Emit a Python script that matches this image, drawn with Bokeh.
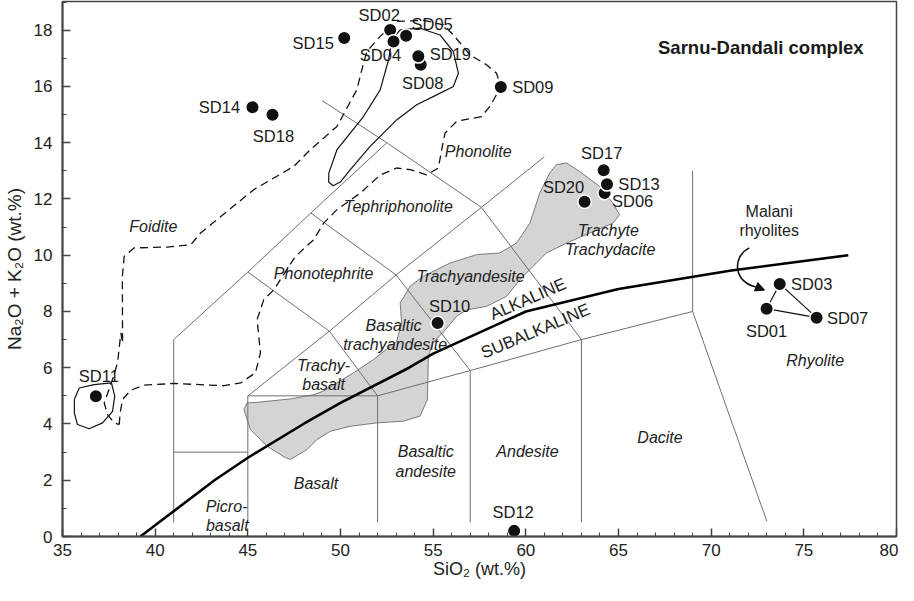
from bokeh.plotting import figure
from bokeh.models import Range1d, ColumnDataSource, FixedTicker, Label, Arrow, NormalHead
from bokeh.core.properties import value
from bokeh.embed import file_html
from bokeh.resources import INLINE

FONT = "Liberation Sans"

# ---------------- data ----------------
sample_names = ["SD15", "SD02", "SD04", "SD05", "SD08", "SD19", "SD09", "SD14", "SD18",
                "SD17", "SD06", "SD13", "SD20", "SD10", "SD11", "SD12", "SD03", "SD01", "SD07"]
sio2 = [50.2, 52.68, 52.86, 53.54, 54.33, 54.2, 58.65, 45.25, 46.33,
        64.2, 64.25, 64.38, 63.17, 55.24, 36.8, 59.37, 73.7, 72.99, 75.69]
alkali = [17.72, 18.01, 17.6, 17.8, 16.77, 17.07, 15.98, 15.26, 14.99,
          13.02, 12.21, 12.52, 11.9, 7.59, 4.99, 0.2, 8.98, 8.1, 7.78]
label_dx = [-31, -11, -13, 26, 2, 32, 32, -33, 1, -2, 28, 32, -21, 12, 3, -1, 32, 0, 31]
label_dy = [5, -15, 14, -12, 18, -2, 0, 0, 21, -17, 8, 0, -15, -17, -20, -19, 0, 22, 0]

malani_group = ["SD01", "SD03", "SD07", "SD01"]

x_ticks = [35, 40, 45, 50, 55, 60, 65, 70, 75, 80]
y_ticks = [0, 2, 4, 6, 8, 10, 12, 14, 16, 18]

# TAS field boundaries (Le Bas et al. 1986)
tas_xs = [[41, 41], [41, 45], [45, 45], [45, 52], [52, 52], [57, 57], [63, 63],
          [52, 57, 63, 69], [69, 73], [69, 69],
          [41, 45, 48.4, 52.5], [45, 49.4, 53, 57.6, 61], [45, 49.4, 52],
          [48.4, 53, 57], [49, 52.5, 57.6, 63]]
tas_ys = [[0.5, 7], [3, 3], [0.5, 5], [5, 5], [0.5, 5], [0.5, 5.9], [0.5, 7],
          [5, 5.9, 7, 8], [8, 0.55], [8, 13],
          [7, 9.4, 11.5, 14], [5, 7.3, 9.3, 11.7, 13.5], [9.4, 7.3, 5],
          [11.5, 9.3, 5.9], [15.5, 14, 11.7, 7]]

# Alkaline / subalkaline divide (Irvine & Baragar 1971)
ib_x = [39.2, 40, 43.2, 45, 48, 50, 53.7, 55, 60, 65, 71, 77.4]
ib_y = [0, 0.4, 2.0, 2.8, 4.0, 4.75, 6.0, 6.5, 8.0, 8.8, 9.45, 10.0]

# grey field
grey_x = [44.79, 44.96, 45.5, 47.3, 48.55, 49.09, 50.7, 51.78, 53.03, 53.3, 53.22, 53.76,
          54.47, 55.91, 57.34, 58.6, 59.49, 60.22, 60.75, 61.29, 61.65, 62.19, 62.9,
          63.98, 64.7, 65.06, 64.7, 63.45, 62.19, 61.11, 60.4, 59.68, 58.96, 57.88,
          56.81, 56.27, 55.6, 55.0, 54.74, 54.69, 54.29, 53.4, 51.96, 50.53, 49.45,
          48.73, 48.19, 47.3, 47.03, 46.04, 45.14, 44.79]
grey_y = [4.51, 4.75, 4.77, 4.89, 5.04, 5.17, 5.82, 6.29, 6.94, 7.59, 8.3, 8.9,
          9.25, 9.72, 10.02, 10.08, 10.43, 11.14, 12.21, 12.92, 13.22, 13.28, 12.98,
          12.45, 11.85, 11.44, 11.14, 10.79, 10.43, 10.08, 9.61, 9.13, 8.54, 8.18,
          8.06, 7.83, 7.3, 6.9, 6.41, 4.87, 4.28, 4.1, 4.04, 3.92, 3.74,
          3.45, 3.09, 2.74, 2.8, 3.21, 3.8, 4.51]

# solid outline around SD02-SD19 group
loop_x = [49.37, 49.81, 51.24, 52.14, 52.59, 52.77, 53.22, 54.29, 55.37, 56.09, 56.36,
          56.09, 55.19, 54.11, 53.03, 51.6, 50.53, 49.99, 49.6, 49.36, 49.37]
loop_y = [12.92, 13.75, 14.93, 15.88, 16.94, 17.66, 18.01, 18.07, 17.83, 17.24, 16.47,
          16.0, 15.7, 15.35, 14.81, 13.87, 13.04, 12.6, 12.47, 12.6, 12.92]

# solid outline around SD11
sd11_x = [35.64, 35.9, 36.71, 37.64, 37.82, 37.7, 37.16, 36.44, 35.81, 35.64, 35.64]
sd11_y = [4.87, 5.28, 5.40, 5.46, 4.99, 4.45, 4.04, 3.83, 3.98, 4.39, 4.87]

# dashed field outline
dash_x = [38.06, 38.11, 38.24, 38.68, 39.4, 41.02, 43.71, 44.61, 45.41, 45.68, 45.5, 45.86,
          46.4, 47.57, 48.55, 49.09, 49.81, 51.07, 52.14, 53.03, 53.76, 54.65, 55.28,
          55.46, 55.64, 56.27, 57.61, 58.06, 58.65, 58.42, 57.88, 56.99, 56.09, 55.55,
          54.5, 53.03, 52.14, 51.42, 51.15, 50.88, 49.81, 48.37, 47.48, 45.32, 42.45,
          41.92, 40.66, 38.86, 38.33, 38.23, 38.24, 38.15, 37.97, 37.7, 37.25, 37.43,
          37.79, 38.06]
dash_y = [3.98, 4.39, 4.87, 5.2, 5.38, 5.44, 5.36, 5.46, 5.82, 6.53, 7.71, 8.42,
          8.77, 9.96, 10.55, 11.14, 11.62, 12.21, 12.85, 13.1, 13.04, 12.86, 13.1,
          13.75, 14.34, 14.76, 14.93, 15.29, 15.98, 16.47, 16.77, 17.12, 17.83, 18.19,
          18.35, 18.31, 17.78, 17.24, 16.59, 15.88, 14.58, 13.75, 13.16, 12.33, 10.79,
          10.37, 10.29, 10.26, 9.96, 9.25, 6.88, 7.24, 6.17, 5.58, 4.75, 4.33,
          4.04, 3.98]

# field names
field_names = ["Foidite", "Phonolite", "Tephriphonolite", "Phonotephrite", "Trachyandesite",
               "Trachyte", "Trachydacite", "Basaltic", "trachyandesite", "Trachy-", "basalt",
               "Basalt", "Basaltic", "andesite", "Andesite", "Dacite", "Rhyolite",
               "Picro-", "basalt"]
field_x = [39.9, 57.43, 53.13, 49.09, 57.02, 64.45, 64.55, 52.86, 52.95, 49.09, 49.09,
           48.68, 54.6, 54.6, 60.09, 67.24, 75.61, 43.85, 43.89]
field_y = [11.03, 13.69, 11.74, 9.34, 9.25, 10.88, 10.2, 7.5, 6.82, 6.07, 5.42,
           1.88, 3.01, 2.32, 3.01, 3.51, 6.25, 1.08, 0.4]

# Malani arrow
arrow_x0, arrow_y0 = 72.06, 10.26
arrow_cx0, arrow_cy0 = 71.1, 9.95
arrow_cx1, arrow_cy1 = 71.2, 9.0
arrow_x1, arrow_y1 = 72.5, 8.86
arrow_tip_x, arrow_tip_y = 72.88, 8.76

# ---------------- figure ----------------
p = figure(width=898, height=585, x_range=Range1d(35, 80), y_range=Range1d(0, 19.02),
           output_backend="svg", toolbar_location=None,
           min_border_left=60, min_border_right=2, min_border_top=1, min_border_bottom=49)
p.title.visible = False
p.grid.visible = False
p.background_fill_color = "white"
p.border_fill_color = "white"
p.outline_line_color = "#444444"
p.outline_line_width = 1.5

for ax in (p.xaxis[0], p.yaxis[0]):
    ax.axis_line_color = "#444444"
    ax.axis_line_width = 2
    ax.major_tick_in = 8
    ax.major_tick_out = 0
    ax.minor_tick_in = 4
    ax.minor_tick_out = 0
    ax.major_tick_line_color = "#444444"
    ax.minor_tick_line_color = "#444444"
    ax.major_tick_line_width = 1.5
    ax.minor_tick_line_width = 1
    ax.major_label_text_font = FONT
    ax.major_label_text_font_size = "17px"
    ax.major_label_text_color = "#222222"
    ax.axis_label_text_font = FONT
    ax.axis_label_text_font_style = "normal"
    ax.axis_label_text_color = "#222222"

p.xaxis.ticker = FixedTicker(ticks=x_ticks, minor_ticks=list(range(35, 81)))
p.yaxis.ticker = FixedTicker(ticks=y_ticks, minor_ticks=list(range(0, 20)))
p.xaxis.axis_label = "SiO\u2082 (wt.%)"
p.yaxis.axis_label = "Na\u2082O + K\u2082O (wt.%)"
p.xaxis.major_label_standoff = 7
p.yaxis.major_label_standoff = 10
p.xaxis.axis_label_standoff = 0
p.yaxis.axis_label_standoff = 6
p.xaxis.axis_label_text_font_size = "18px"
p.yaxis.axis_label_text_font_size = "19px"

# grey field
p.patch(grey_x, grey_y, fill_color="#d4d4d4", line_color="#7a7a7a", line_width=1)

# TAS boundaries
p.multi_line(tas_xs, tas_ys, line_color="#6e6e6e", line_width=1)

# dashed and solid outlines
p.line(dash_x, dash_y, line_color="#111111", line_width=1.3, line_dash="8 5")
p.line(loop_x, loop_y, line_color="#111111", line_width=1.2)
p.line(sd11_x, sd11_y, line_color="#111111", line_width=1.2)

# alkaline / subalkaline line
p.line(ib_x, ib_y, line_color="black", line_width=2.6)

# Malani group outline
mx = [sio2[sample_names.index(n)] for n in malani_group]
my = [alkali[sample_names.index(n)] for n in malani_group]
p.line(mx, my, line_color="#111111", line_width=1.2)

# arrow
p.bezier(x0=[arrow_x0], y0=[arrow_y0], x1=[arrow_x1], y1=[arrow_y1],
         cx0=[arrow_cx0], cy0=[arrow_cy0], cx1=[arrow_cx1], cy1=[arrow_cy1],
         line_color="#111111", line_width=1.6)
p.add_layout(Arrow(end=NormalHead(size=9, fill_color="#111111", line_color="#111111"),
                   x_start=arrow_x1, y_start=arrow_y1, x_end=arrow_tip_x, y_end=arrow_tip_y,
                   line_color="#111111", line_width=1.6))

# field names
p.text(field_x, field_y, text=field_names, text_font=value(FONT), text_font_style="italic",
       text_font_size="16px", text_color="#222222", text_align="center",
       text_baseline="middle")

# ALKALINE / SUBALKALINE
p.text([60.12], [8.44], text=["ALKALINE"], angle=0.41, text_font=value(FONT),
       text_font_size="17px", text_color="#222222", text_align="center", text_baseline="middle")
p.text([60.52], [7.3], text=["SUBALKALINE"], angle=0.40, text_font=value(FONT),
       text_font_size="17px", text_color="#222222", text_align="center", text_baseline="middle")

# Malani rhyolites label
p.text([73.13, 73.13], [11.56, 10.87], text=["Malani", "rhyolites"], text_font=value(FONT),
       text_font_size="16px", text_color="#222222", text_align="center", text_baseline="middle")

# sample points
src = ColumnDataSource(dict(x=sio2, y=alkali, name=sample_names, dx=label_dx, dy=label_dy))
p.scatter("x", "y", source=src, size=13.5, fill_color="#111111", line_color="white", line_width=1.5)
p.text("x", "y", text="name", source=src, x_offset="dx", y_offset="dy",
       text_font=value(FONT), text_font_size="16.5px", text_color="#1a1a1a",
       text_align="center", text_baseline="middle")

p.add_layout(Label(x=72.68, y=17.37, text="Sarnu-Dandali complex", text_font=FONT,
                   text_font_style="bold", text_font_size="18.5px", text_color="#1a1a1a",
                   text_align="center", text_baseline="middle"))

open("out.html", "w").write(file_html(p, INLINE))
